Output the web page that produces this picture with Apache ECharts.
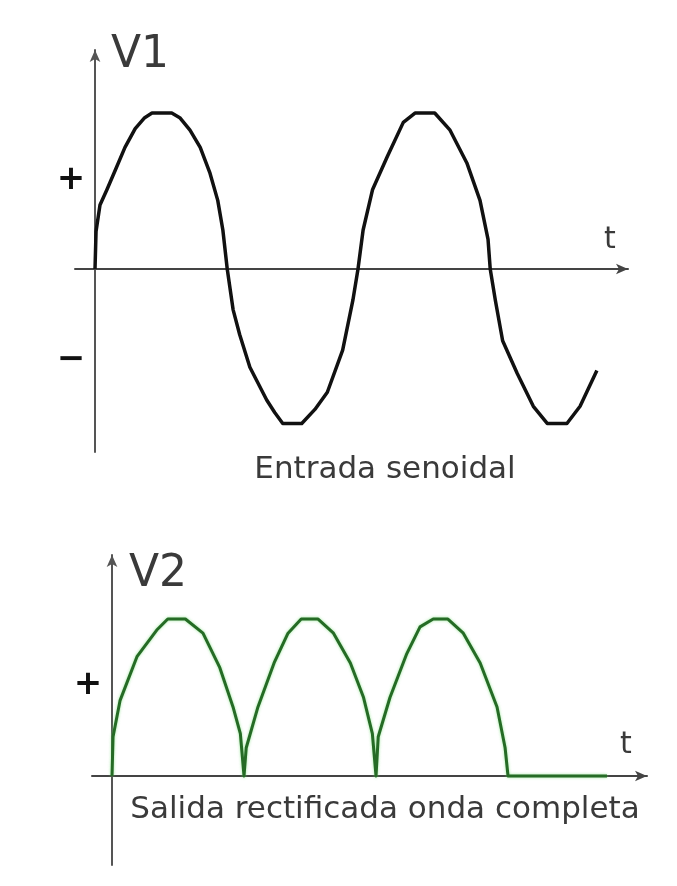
<!DOCTYPE html>
<html>
<head>
<meta charset="utf-8">
<script src="https://cdn.jsdelivr.net/npm/echarts@6.0.0/dist/echarts.min.js"></script>
<style>
  html, body { margin: 0; padding: 0; background: #fff; }
  #main { width: 677px; height: 886px; }
</style>
</head>
<body>
<div id="main"></div>
<script>
// V1: input sine, time in degrees, value in units of the peak
const v1Time = [0, 1.4, 6.8, 16.4, 27.4, 41, 55, 68, 78, 105,
  116, 130, 144, 157, 168, 175, 181, 189, 198, 212,
  235, 246, 257, 283, 301, 318, 339, 353, 360, 367,
  380, 400, 422, 438, 465, 486, 509, 527, 538, 541,
  548, 558, 578, 600, 619, 646, 664, 687];
const v1Volt = [0, 0.24, 0.41, 0.51, 0.63, 0.78, 0.90, 0.97, 1.0, 1.0,
  0.97, 0.89, 0.78, 0.62, 0.44, 0.25, 0, -0.26, -0.42, -0.63,
  -0.84, -0.92, -0.99, -0.99, -0.90, -0.79, -0.52, -0.20, 0, 0.25,
  0.51, 0.72, 0.94, 1.0, 1.0, 0.89, 0.68, 0.44, 0.19, 0,
  -0.2, -0.46, -0.67, -0.88, -0.99, -0.99, -0.88, -0.65];

// V2: full wave rectified output
const v2Time = [0, 1.4, 10.9, 34, 61, 76, 100, 124, 147, 165,
  175, 180, 183, 199, 221, 240, 258, 281, 302, 325,
  343, 355, 360, 363, 379, 402, 420, 438, 458, 479,
  502, 525, 536, 540, 675];
const v2Volt = [0, 0.25, 0.48, 0.76, 0.93, 1.0, 1.0, 0.91, 0.69, 0.44,
  0.27, 0, 0.18, 0.44, 0.72, 0.91, 1.0, 1.0, 0.91, 0.72,
  0.5, 0.27, 0, 0.25, 0.5, 0.78, 0.95, 1.0, 1.0, 0.91,
  0.72, 0.44, 0.18, 0, 0];

// labels
const axisNames = ["V1", "V2"];
const timeName = "t";
const signLabels = ["+", "−"];
const captions = ["Entrada senoidal", "Salida rectificada onda completa"];

const pairs = (xs, ys) => xs.map((x, i) => [x, ys[i]]);

const chart = echarts.init(document.getElementById("main"));

const axisLine = (color) => ({
  show: true,
  onZero: true,
  symbol: ["none", "arrow"],
  symbolSize: [8, 12],
  lineStyle: { color: color, width: 2 },
});

const plainAxis = (min, max, idx, color) => ({
  type: "value",
  gridIndex: idx,
  min: min,
  max: max,
  axisLine: axisLine(color),
  axisTick: { show: false },
  axisLabel: { show: false },
  splitLine: { show: false },
});

// text helper, left/center aligned
const txt = (s, x, y, font, fill, align) => ({
  type: "text",
  x: x,
  y: y,
  z: 10,
  style: {
    text: s,
    fill: fill || "#3a3a3a",
    font: font,
    textAlign: align || "center",
    textVerticalAlign: "middle",
  },
});

const options = {
  backgroundColor: "#fff",
  animation: false,
  grid: [
    { left: 75, top: 50, width: 553, height: 402 },
    { left: 92, top: 555, width: 555, height: 310 },
  ],
  xAxis: [plainAxis(-27.4, 729.6, 0, "#444"), plainAxis(-27.3, 729.5, 1, "#444")],
  yAxis: [plainAxis(-1.173, 1.404, 0, "#555"), plainAxis(-0.567, 1.408, 1, "#555")],
  series: [
    {
      type: "line",
      xAxisIndex: 0,
      yAxisIndex: 0,
      data: pairs(v1Time, v1Volt),
      showSymbol: false,
      z: 5,
      lineStyle: { color: "#111", width: 3.5, join: "round" },
    },
    {
      type: "line",
      xAxisIndex: 1,
      yAxisIndex: 1,
      data: pairs(v2Time, v2Volt),
      showSymbol: false,
      z: 5,
      lineStyle: {
        color: "#256b25",
        width: 3,
        join: "round",
        shadowColor: "rgba(110,220,110,0.7)",
        shadowBlur: 3,
      },
    },
  ],
  graphic: [
    txt(axisNames[0], 111, 56, "44px 'DejaVu Sans'", null, "left"),
    txt(signLabels[0], 71, 180, "bold 34px 'DejaVu Sans'", "#111"),
    txt(signLabels[1], 71, 360, "bold 34px 'DejaVu Sans'", "#111"),
    txt(timeName, 610, 240, "30px 'DejaVu Sans'"),
    txt(captions[0], 385, 470, "31px 'DejaVu Sans'"),
    txt(axisNames[1], 129, 575, "44px 'DejaVu Sans'", null, "left"),
    txt(signLabels[0], 88, 685, "bold 34px 'DejaVu Sans'", "#111"),
    txt(timeName, 626, 745, "30px 'DejaVu Sans'"),
    txt(captions[1], 385, 810, "31px 'DejaVu Sans'"),
  ],
};

chart.setOption(options);
</script>
</body>
</html>
